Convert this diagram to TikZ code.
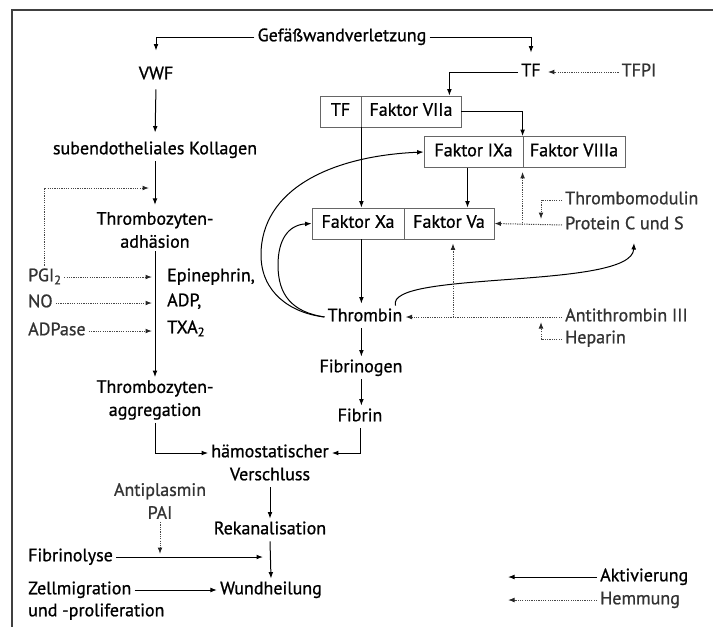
\documentclass[tikz,border=0pt]{standalone}
\usepackage{fontspec}
\setmainfont{PT Sans}[FakeBold=0.9]
\usetikzlibrary{arrows.meta,calc}
\definecolor{inhcol}{gray}{0.2}
\definecolor{dotcol}{gray}{0.28}
\definecolor{boxcol}{gray}{0.4}
\newcommand\subidx[1]{\raisebox{-0.35ex}{\fontsize{12.5}{12.5}\selectfont #1}}
\begin{document}
\begin{tikzpicture}[x=1pt,y=-1pt,
  lbl/.style={inner sep=3pt, text height=12.5pt, text depth=4pt, font=\fontsize{18}{21}\selectfont},
  two/.style={inner sep=3pt, align=center, font=\fontsize{18}{23}\selectfont},
  inhlbl/.style={lbl, text=inhcol},
  cell/.style={draw=boxcol, line width=0.8pt, minimum height=31pt, inner sep=0pt,
    text height=12.5pt, text depth=4pt, font=\fontsize{18}{21}\selectfont},
  act/.style={draw=black, line width=1pt, -{Latex[length=6.5pt,width=4.8pt]}},
  inhb/.style={draw=dotcol, line width=1pt, dash pattern=on 1.2pt off 1.1pt,
    -{Latex[length=6.5pt,width=4.8pt,color=black!85]}},
  frame/.style={draw=black!75, line width=1.2pt}]
\useasboundingbox (0,0) rectangle (713,627);
\draw[frame] (713,10) -- (12,10) -- (12,627);

% labels
\node[lbl] (g) at (342,37) {Gefäßwandverletzung};
\node[lbl] (vwf) at (156,75) {VWF};
\node[lbl] (kol) at (155,150) {subendotheliales Kollagen};
\node[two] (adh) at (155,230) {Thrombozyten-\\adhäsion};
\node[two] (agg) at (155,400) {Thrombozyten-\\aggregation};
\node[lbl, anchor=west] (epi) at (164,277) {Epinephrin,};
\node[lbl, anchor=west] (adp) at (164,302) {ADP,};
\node[lbl, anchor=west] (txa) at (164,329) {TXA\subidx{2}};
\node[inhlbl, anchor=west] (pgi) at (25,277) {PGI\subidx{2}};
\node[inhlbl, anchor=west] (no) at (25,303) {NO};
\node[inhlbl, anchor=west] (adpase) at (25,331) {ADPase};

\node[lbl] (tf) at (531,72) {TF};
\node[inhlbl] (tfpi) at (639,72) {TFPI};

% enzyme complexes
\node[cell, minimum width=41pt] (tfc) at (340.5,111.5) {TF};
\node[cell, minimum width=100pt] (vii) at (411,111.5) {Faktor VIIa};
\node[cell, minimum width=99pt] (ixa) at (473.5,152) {Faktor IXa};
\node[cell, minimum width=102pt] (viii) at (574,152) {Faktor VIIIa};
\node[cell, minimum width=92pt] (xa) at (358,223.5) {Faktor Xa};
\node[cell, minimum width=90pt] (va) at (449,223.5) {Faktor Va};

\node[inhlbl, anchor=west] (thm) at (562,200) {Thrombomodulin};
\node[inhlbl, anchor=west] (pcs) at (562,225) {Protein C und S};
\node[lbl] (thr) at (365,317) {Thrombin};
\node[inhlbl, anchor=west] (at3) at (562,317) {Antithrombin III};
\node[inhlbl, anchor=west] (hep) at (562,339) {Heparin};
\node[lbl] (fbg) at (361,368) {Fibrinogen};
\node[lbl] (fbn) at (360,417) {Fibrin};

\node[lbl] (hv) at (270,453) {hämostatischer};
\node[lbl] (vs) at (270,476) {Verschluss};
\node[lbl] (rek) at (270,530) {Rekanalisation};
\node[lbl] (wh) at (271,590) {Wundheilung};
\node[lbl, anchor=west] (fib) at (25,557) {Fibrinolyse};
\node[lbl, anchor=west] (zm1) at (25,590) {Zellmigration};
\node[lbl, anchor=west] (zm2) at (25,612) {und -proliferation};
\node[two, text=inhcol] (ap) at (160,501) {Antiplasmin\\PAI};

\node[lbl, anchor=west] (akt) at (597,577) {Aktivierung};
\node[inhlbl, anchor=west] (hem) at (597,600) {Hemmung};

% helper points
\coordinate (thmT) at (541,219);
\coordinate (hepT) at (541,322);
\coordinate (pcsT) at (634,243);
\coordinate (aktT) at (508,577);
\coordinate (hemT) at (508,600);

% activation pathways
\draw[act, shorten >=13pt] (g.west) -| (vwf.north);
\draw[act, shorten >=8pt] (g.east) -| (tf.north);
\draw[act, shorten <=3pt, shorten >=6pt] (vwf.south) -- (kol.north);
\draw[act, shorten >=4pt] (kol.south) -- (adh.north);
\draw[act] (adh.south) -- (agg.north);
\draw[act] (tf.west) -| ([xshift=-12pt]vii.north east);
\draw[act] (vii.east) -| (viii.north west);
\draw[act] (tfc.south east) -- (tfc.south east |- xa.north);
\draw[act] ([xshift=-6pt]ixa.south) -- ([xshift=-6pt]ixa.south |- va.north);
\draw[act, shorten >=2pt] (tfc.south east |- xa.south) -- (tfc.south east |- thr.north);
\draw[act] (tfc.south east |- thr.south) -- (tfc.south east |- fbg.north);
\draw[act] (tfc.south east |- fbg.south) -- (tfc.south east |- fbn.north);
\draw[act] (fbn.south) |- (hv.east);
\draw[act] (agg.south) |- (hv.west);
\draw[act] (vs.south) -- (rek.north);
\draw[act] (rek.south) -- (wh.north);
\draw[act] (fib.east) -- ([xshift=-7pt]rek.south |- fib.east);
\draw[act] (zm1.east) -- (wh.west);

% thrombin feedback
\draw[act] (thr.west) .. controls (290,313) and (261,292) .. (261,255)
  .. controls (261,190) and (330,156) .. (ixa.west);
\draw[act] (thr.west) .. controls (292,312) and (278,295) .. (278,265)
  .. controls (278,240) and (288,225) .. (xa.west);
\draw[act] ([xshift=-10pt]thr.north east) .. controls (385,270) and (632,290) .. (pcsT);

% inhibitory pathways
\draw[inhb, shorten >=4pt] (tfpi.west) -- (tf.east);
\draw[inhb] (pcs.west) -- (va.east);
\draw[inhb, shorten >=4pt] (viii.south west |- pcs.west) -- (viii.south west);
\draw[inhb] (thm.west) -| (thmT);
\draw[inhb] (at3.west) -- (thr.east);
\draw[inhb, shorten >=4pt] ([xshift=4pt]va.south |- at3.west) -- ([xshift=4pt]va.south);
\draw[inhb] (hep.west) -| (hepT);
\draw[inhb, shorten >=2pt] (pgi.north) |- ([xshift=-4pt]kol.south |- 0,188);
\draw[inhb, shorten >=3pt] (pgi.east) -- (pgi.east -| adh.south);
\draw[inhb, shorten >=3pt] (no.east) -- (no.east -| adh.south);
\draw[inhb, shorten >=3pt] (adpase.east) -- (adpase.east -| adh.south);
\draw[inhb, shorten >=3pt] (ap.south) -- (ap.south |- fib.east);

% legend
\draw[act] (akt.west) -- (aktT);
\draw[inhb] (hem.west) -- (hemT);
\end{tikzpicture}
\end{document}
